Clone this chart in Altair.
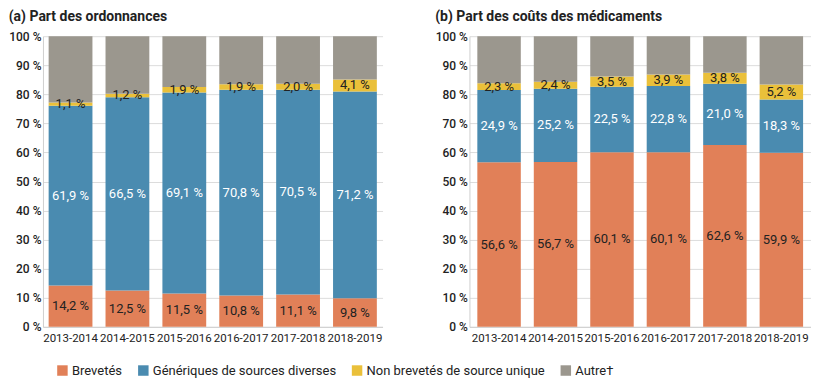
import altair as alt
import pandas as pd

years = ["2013-2014", "2014-2015", "2015-2016", "2016-2017", "2017-2018", "2018-2019"]
categories = ["Brevetés", "Génériques de sources diverses", "Non brevetés de source unique", "Autre†"]
colors = ["#E18058", "#4A8BB0", "#EAC03A", "#9B978E"]

# (a) Part des ordonnances
ord_brevetes = [14.2, 12.5, 11.5, 10.8, 11.1, 9.8]
ord_generiques = [61.9, 66.5, 69.1, 70.8, 70.5, 71.2]
ord_nonbrevetes = [1.1, 1.2, 1.9, 1.9, 2.0, 4.1]

# (b) Part des coûts des médicaments
cout_brevetes = [56.6, 56.7, 60.1, 60.1, 62.6, 59.9]
cout_generiques = [24.9, 25.2, 22.5, 22.8, 21.0, 18.3]
cout_nonbrevetes = [2.3, 2.4, 3.5, 3.9, 3.8, 5.2]

FONT = "Roboto"


def fmt(v):
    return f"{v:.1f}".replace(".", ",") + " %"


def build(b, g, n):
    rows = []
    for i, y in enumerate(years):
        vals = [b[i], g[i], n[i], 100 - b[i] - g[i] - n[i]]
        start = 0.0
        for k, (cat, v) in enumerate(zip(categories, vals)):
            end = start + v
            rows.append({
                "year": y, "cat": cat, "order": k, "start": start, "end": end,
                "mid": (start + end) / 2,
                "label": fmt(v) if k < 3 else "",
                "tone": "white" if k == 1 else "dark",
            })
            start = end
    return pd.DataFrame(rows)


def panel(df, title, width, outer):
    xenc = alt.X("year:N", sort=years, title=None,
                 scale=alt.Scale(paddingInner=0.23, paddingOuter=outer),
                 axis=alt.Axis(labelAngle=0, ticks=False, domainColor="#cfcfcf",
                               labelFontSize=11.5, labelColor="#222222", labelPadding=6))
    yscale = alt.Scale(domain=[0, 100], nice=False)
    yaxis = alt.Axis(values=list(range(0, 101, 10)), labelExpr="datum.value + ' %'",
                     ticks=False, domainColor="#cfcfcf", gridColor="#dcdcdc",
                     labelFontSize=12, labelColor="#222222", labelPadding=2,
                     labelFontWeight=500)
    yenc = alt.Y("start:Q", title=None, scale=yscale, axis=yaxis)
    ymid = alt.Y("mid:Q", title=None, scale=yscale, axis=yaxis)
    base = alt.Chart(df)
    bars = base.mark_bar().encode(
        x=xenc, y=yenc, y2="end:Q",
        color=alt.Color("cat:N", scale=alt.Scale(domain=categories, range=colors),
                        legend=alt.Legend(title=None, orient="none", direction="horizontal",
                                          legendX=13, legendY=328, symbolType="square",
                                          symbolSize=110, symbolStrokeWidth=0,
                                          labelFontSize=13, labelColor="#222222",
                                          labelLimit=0, columnPadding=14, labelOffset=3)),
        order=alt.Order("order:Q"),
    )
    dark = base.transform_filter("datum.tone == 'dark' && datum.label != ''").mark_text(
        fontSize=13, color="#222222", font=FONT).encode(x=xenc, y=ymid, text="label:N")
    white = base.transform_filter("datum.tone == 'white'").mark_text(
        fontSize=13, color="#ffffff", font=FONT).encode(x=xenc, y=ymid, text="label:N")
    return alt.layer(bars, dark, white).properties(
        width=width, height=291,
        title=alt.TitleParams(title, anchor="start", fontSize=14, fontWeight="bold",
                              color="#222222", font=FONT, offset=6),
    )


pa = panel(build(ord_brevetes, ord_generiques, ord_nonbrevetes), "(a) Part des ordonnances", 340, 0.1)
pb = panel(build(cout_brevetes, cout_generiques, cout_nonbrevetes), "(b) Part des coûts des médicaments", 342, 0.14)

chart = alt.hconcat(pa, pb, spacing=52).properties(
    padding={"left": 0, "top": 2, "right": 0, "bottom": 0}
).configure(font=FONT).configure_view(stroke=None).configure_axis(labelFont=FONT).configure_legend(labelFont=FONT)

chart.save("out.html", embed_options={"renderer": "svg", "actions": False})
